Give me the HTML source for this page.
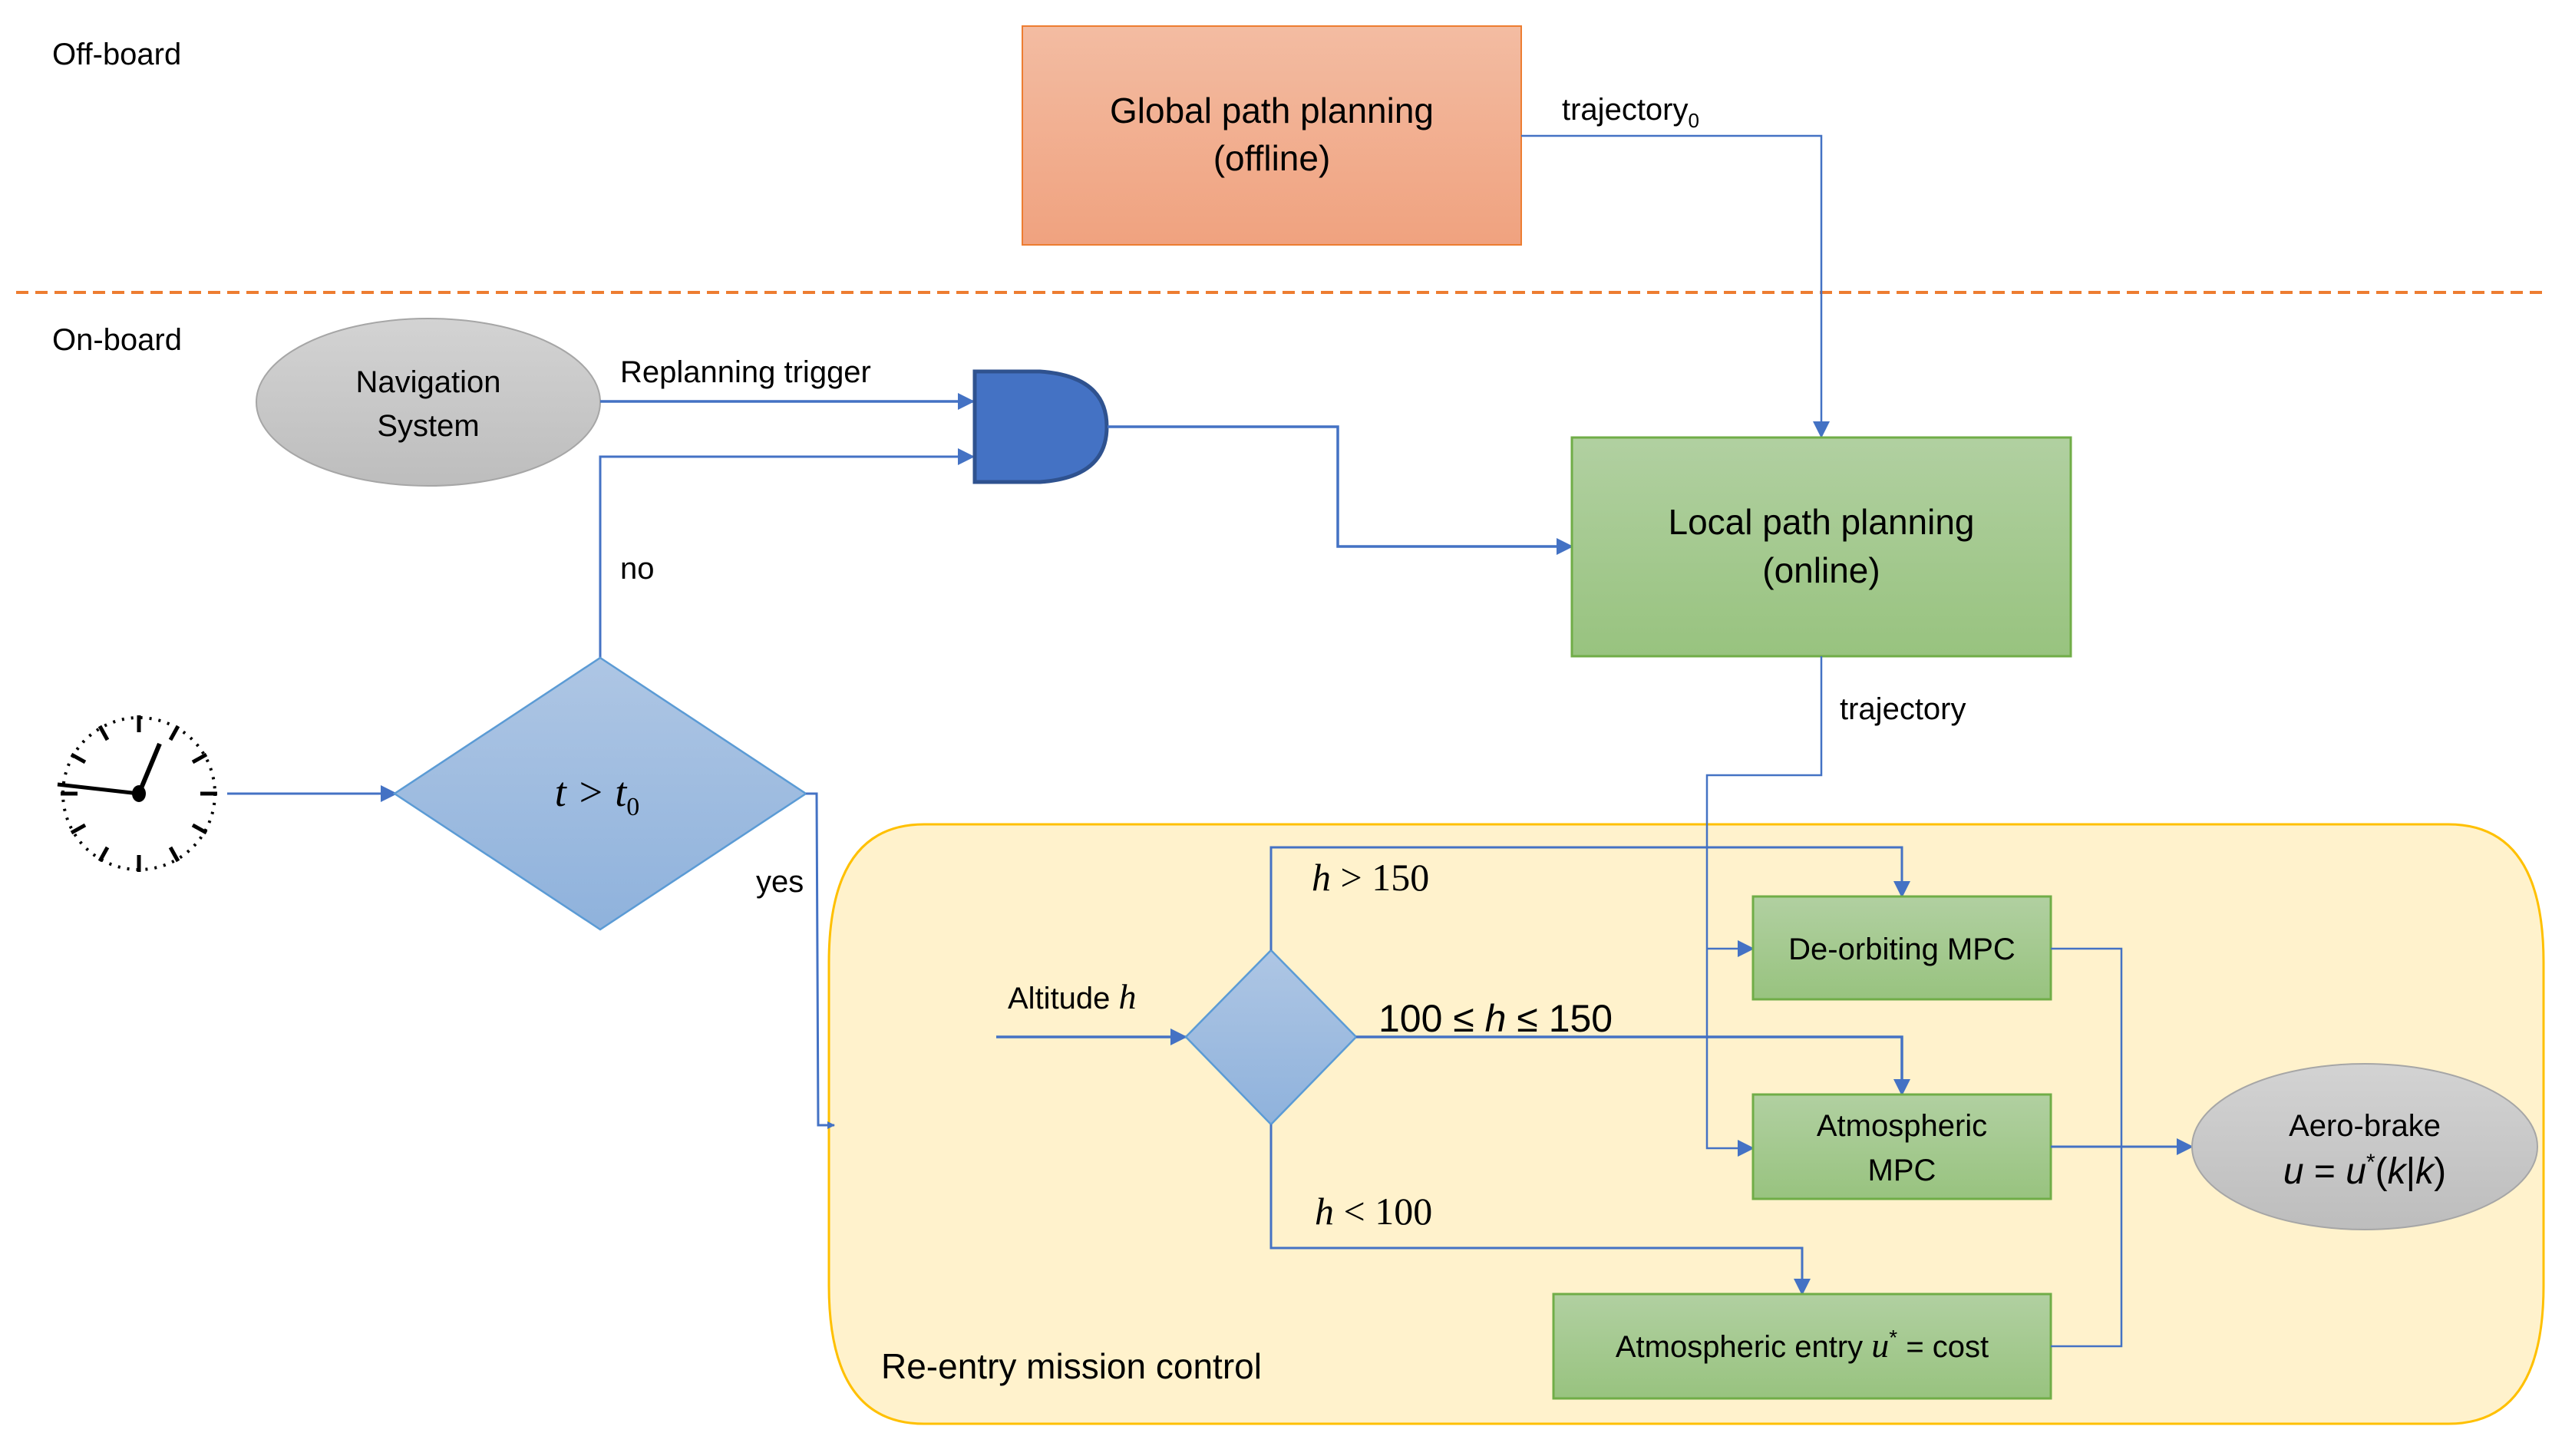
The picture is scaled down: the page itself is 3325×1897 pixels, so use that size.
<!DOCTYPE html>
<html><head><meta charset="utf-8"><style>
html,body{margin:0;padding:0;background:#fff;}
svg{display:block;}
text{font-family:"Liberation Sans",sans-serif;fill:#000;}
.m{font-family:"Liberation Serif",serif;font-style:italic;}
</style></head><body>
<svg width="3325" height="1897" viewBox="0 0 3325 1897" xmlns="http://www.w3.org/2000/svg">
<defs>
<linearGradient id="go" x1="0" y1="0" x2="0" y2="1"><stop offset="0" stop-color="#f3bca2"/><stop offset="1" stop-color="#f0a27f"/></linearGradient>
<linearGradient id="gg" x1="0" y1="0" x2="0" y2="1"><stop offset="0" stop-color="#b1d0a1"/><stop offset="1" stop-color="#98c37f"/></linearGradient>
<linearGradient id="gb" x1="0" y1="0" x2="0" y2="1"><stop offset="0" stop-color="#aec6e4"/><stop offset="1" stop-color="#8fb2dc"/></linearGradient>
<linearGradient id="gy" x1="0" y1="0" x2="0" y2="1"><stop offset="0" stop-color="#d3d3d3"/><stop offset="1" stop-color="#bdbdbd"/></linearGradient>
<marker id="a" markerWidth="10" markerHeight="10" refX="9" refY="5" orient="auto" markerUnits="userSpaceOnUse" viewBox="0 0 10 10"><path d="M0,0 L10,5 L0,10 z" fill="#4472c4"/></marker>
<marker id="A" markerWidth="22" markerHeight="22" refX="20" refY="11" orient="auto" markerUnits="userSpaceOnUse" viewBox="0 0 22 22"><path d="M0,0 L22,11 L0,22 z" fill="#4472c4"/></marker>
</defs>

<!-- container (drawn first) -->
<path d="M1204,1074 L3190,1074 Q3314,1074 3314,1254 L3314,1675 Q3314,1855 3190,1855 L1204,1855 Q1080,1855 1080,1675 L1080,1254 Q1080,1074 1204,1074 Z" fill="#fff2cc" stroke="#ffc000" stroke-width="3"/>

<text x="68" y="84" font-size="40">Off-board</text>
<text x="68" y="456" font-size="40">On-board</text>

<line x1="21" y1="381" x2="3314" y2="381" stroke="#ed7d31" stroke-width="4" stroke-dasharray="16,9"/>

<rect x="1332" y="34" width="650" height="285" fill="url(#go)" stroke="#ed7d31" stroke-width="2"/>
<text x="1657" y="160" font-size="46" text-anchor="middle">Global path planning</text>
<text x="1657" y="222" font-size="46" text-anchor="middle">(offline)</text>
<text x="2035" y="156" font-size="40">trajectory<tspan font-size="26" dy="10">0</tspan></text>
<polyline points="1982,177 2373,177 2373,569" fill="none" stroke="#4472c4" stroke-width="2.5" marker-end="url(#A)"/>

<ellipse cx="558" cy="524" rx="224" ry="109" fill="url(#gy)" stroke="#a6a6a6" stroke-width="2"/>
<text x="558" y="511" font-size="40" text-anchor="middle">Navigation</text>
<text x="558" y="568" font-size="40" text-anchor="middle">System</text>
<text x="808" y="498" font-size="40">Replanning trigger</text>
<line x1="782" y1="523" x2="1268" y2="523" stroke="#4472c4" stroke-width="3.5" marker-end="url(#A)"/>
<polyline points="782,1034 782,595 1268,595" fill="none" stroke="#4472c4" stroke-width="3" marker-end="url(#A)"/>

<path d="M1270,484 L1355,484 Q1442,490 1442,556 Q1442,622 1355,628 L1270,628 Z" fill="#4472c4" stroke="#2f528f" stroke-width="5"/>
<polyline points="1443,556 1743,556 1743,712 2048,712" fill="none" stroke="#4472c4" stroke-width="3.5" marker-end="url(#A)"/>

<rect x="2048" y="570" width="650" height="285" fill="url(#gg)" stroke="#70ad47" stroke-width="3"/>
<text x="2373" y="696" font-size="46" text-anchor="middle">Local path planning</text>
<text x="2373" y="759" font-size="46" text-anchor="middle">(online)</text>
<text x="2397" y="937" font-size="40">trajectory</text>
<polyline points="2373,855 2373,1010 2224,1010 2224,1496 2284,1496" fill="none" stroke="#4472c4" stroke-width="2.5" marker-end="url(#A)"/>
<line x1="2224" y1="1236" x2="2284" y2="1236" stroke="#4472c4" stroke-width="2.5" marker-end="url(#A)"/>

<text x="808" y="754" font-size="40">no</text>

<g transform="translate(181,1034)">
<circle r="99" fill="none" stroke="#000" stroke-width="4" stroke-dasharray="3,9"/>
<g stroke="#000" stroke-width="5">
<line x1="0" y1="-102" x2="0" y2="-80"/><line x1="0" y1="102" x2="0" y2="80"/>
<line x1="-102" y1="0" x2="-80" y2="0"/><line x1="102" y1="0" x2="80" y2="0"/>
<line x1="51" y1="-88" x2="41" y2="-70"/><line x1="-51" y1="-88" x2="-41" y2="-70"/>
<line x1="51" y1="88" x2="41" y2="70"/><line x1="-51" y1="88" x2="-41" y2="70"/>
<line x1="88" y1="-51" x2="70" y2="-41"/><line x1="-88" y1="-51" x2="-70" y2="-41"/>
<line x1="88" y1="51" x2="70" y2="41"/><line x1="-88" y1="51" x2="-70" y2="41"/>
</g>
<line x1="0" y1="0" x2="27" y2="-65" stroke="#000" stroke-width="6"/>
<line x1="0" y1="0" x2="-106" y2="-12" stroke="#000" stroke-width="5"/>
<ellipse rx="9" ry="11" fill="#000"/>
</g>
<line x1="296" y1="1034" x2="516" y2="1034" stroke="#4472c4" stroke-width="3" marker-end="url(#A)"/>

<polygon points="782,857 1050,1034 782,1211 514,1034" fill="url(#gb)" stroke="#5b9bd5" stroke-width="2.5"/>
<text x="778" y="1050" font-size="54" text-anchor="middle" class="m">t &gt; t<tspan font-size="34" dy="12" font-style="normal">0</tspan></text>
<polyline points="1050,1034 1064,1034 1066,1466 1087,1466" fill="none" stroke="#4472c4" stroke-width="3" marker-end="url(#a)"/>
<text x="985" y="1162" font-size="40">yes</text>

<text x="1313" y="1314" font-size="40">Altitude <tspan class="m" font-size="46">h</tspan></text>
<line x1="1298" y1="1351" x2="1545" y2="1351" stroke="#4472c4" stroke-width="3.5" marker-end="url(#A)"/>
<polygon points="1656,1238 1767,1351 1656,1465 1545,1351" fill="url(#gb)" stroke="#5b9bd5" stroke-width="2.5"/>

<polyline points="1656,1238 1656,1104 2478,1104 2478,1168" fill="none" stroke="#4472c4" stroke-width="3" marker-end="url(#A)"/>
<text x="1709" y="1160" font-size="50" class="m">h <tspan font-style="normal">&gt; 150</tspan></text>
<polyline points="1767,1351 2478,1351 2478,1426" fill="none" stroke="#4472c4" stroke-width="3.5" marker-end="url(#A)"/>
<text x="1796" y="1344" font-size="50" font-family="Liberation Serif, serif">100 ≤ <tspan font-style="italic">h</tspan> ≤ 150</text>
<polyline points="1656,1465 1656,1626 2348,1626 2348,1686" fill="none" stroke="#4472c4" stroke-width="3" marker-end="url(#A)"/>
<text x="1713" y="1595" font-size="50" class="m">h <tspan font-style="normal">&lt; 100</tspan></text>

<rect x="2284" y="1168" width="388" height="134" fill="url(#gg)" stroke="#70ad47" stroke-width="3"/>
<text x="2478" y="1250" font-size="40" text-anchor="middle">De-orbiting MPC</text>
<rect x="2284" y="1426" width="388" height="136" fill="url(#gg)" stroke="#70ad47" stroke-width="3"/>
<text x="2478" y="1480" font-size="40" text-anchor="middle">Atmospheric</text>
<text x="2478" y="1538" font-size="40" text-anchor="middle">MPC</text>
<rect x="2024" y="1686" width="648" height="136" fill="url(#gg)" stroke="#70ad47" stroke-width="3"/>
<text x="2348" y="1768" font-size="40" text-anchor="middle">Atmospheric entry <tspan class="m" font-size="46">u</tspan><tspan font-size="28" dy="-16">*</tspan><tspan dy="16"> = cost</tspan></text>

<polyline points="2672,1236 2764,1236 2764,1754 2672,1754" fill="none" stroke="#4472c4" stroke-width="2.5"/>
<line x1="2672" y1="1494" x2="2856" y2="1494" stroke="#4472c4" stroke-width="3" marker-end="url(#A)"/>

<ellipse cx="3081" cy="1494" rx="225" ry="108" fill="url(#gy)" stroke="#a6a6a6" stroke-width="2"/>
<text x="3081" y="1480" font-size="40" text-anchor="middle">Aero-brake</text>
<text x="3081" y="1542" font-size="48" text-anchor="middle" font-family="Liberation Serif, serif"><tspan font-style="italic">u</tspan> = <tspan font-style="italic">u</tspan><tspan font-size="30" dy="-18">*</tspan><tspan dy="18">(</tspan><tspan font-style="italic">k</tspan>|<tspan font-style="italic">k</tspan>)</text>

<text x="1148" y="1796" font-size="46">Re-entry mission control</text>
</svg>
</body></html>
